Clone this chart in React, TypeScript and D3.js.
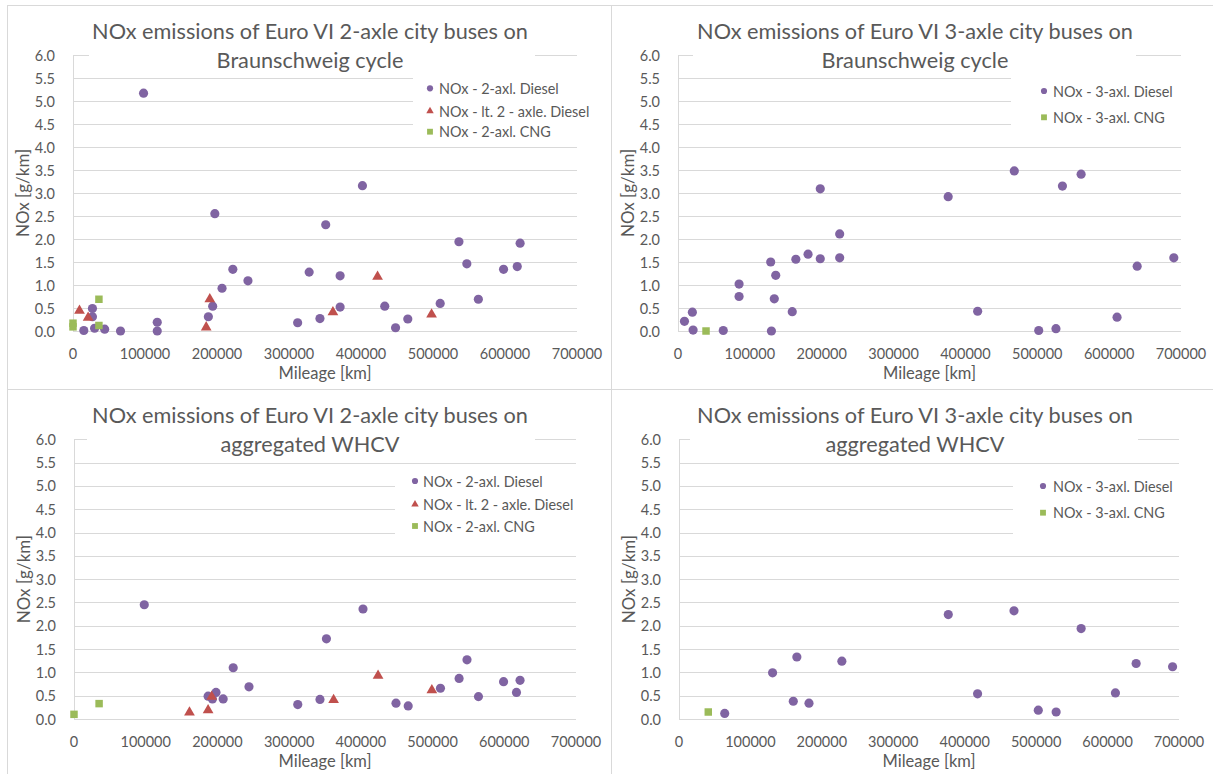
import * as d3 from "d3";

const FONT = "Lato, 'Open Sans', sans-serif";
const TEXT_COLOR = "#595959";
const GRID_COLOR = "#D9D9D9";
const PURPLE = "#8064A2";
const RED = "#C0504D";
const GREEN = "#9BBB59";

const Y_TICKS = [0, 0.5, 1, 1.5, 2, 2.5, 3, 3.5, 4, 4.5, 5, 5.5, 6];
const X_TICKS = [0, 100000, 200000, 300000, 400000, 500000, 600000, 700000];

// [mileage km, NOx g/km]
const bs2AxlDiesel: [number, number][] = [
  [98000, 5.17], [197000, 2.55], [222000, 1.34], [243000, 1.09], [207000, 0.93],
  [194000, 0.54], [188000, 0.31], [27000, 0.49], [27000, 0.31], [30000, 0.06],
  [15000, 0.01], [44000, 0.04], [66000, 0.0], [117000, 0.19], [117000, 0.0],
  [312000, 0.18], [328000, 1.28], [343000, 0.27], [351000, 2.31], [371000, 1.2],
  [371000, 0.52], [402000, 3.16], [433000, 0.54], [448000, 0.07], [465000, 0.26],
  [510000, 0.6], [536000, 1.94], [547000, 1.46], [563000, 0.69], [598000, 1.34],
  [617000, 1.4], [621000, 1.91],
];
const bs2LtDiesel: [number, number][] = [
  [9000, 0.44], [21000, 0.29], [190000, 0.69], [185000, 0.08], [361000, 0.41],
  [423000, 1.18], [498000, 0.36],
];
const bs2Cng: [number, number][] = [[0, 0.17], [0, 0.09], [36000, 0.69], [36000, 0.12]];

const bs3AxlDiesel: [number, number][] = [
  [9000, 0.21], [20000, 0.41], [21000, 0.02], [63000, 0.01], [85000, 1.02],
  [85000, 0.75], [129000, 1.5], [130000, 0.0], [136000, 1.21], [134000, 0.7],
  [159000, 0.42], [164000, 1.56], [181000, 1.67], [198000, 3.09], [198000, 1.57],
  [225000, 2.11], [225000, 1.59], [376000, 2.92], [417000, 0.43], [468000, 3.48],
  [502000, 0.01], [526000, 0.05], [535000, 3.15], [561000, 3.41], [611000, 0.3],
  [639000, 1.41], [690000, 1.59],
];
const bs3Cng: [number, number][] = [[39000, 0.0]];

const wh2AxlDiesel: [number, number][] = [
  [98000, 2.45], [222000, 1.1], [244000, 0.69], [198000, 0.57], [187000, 0.49],
  [193000, 0.43], [208000, 0.43], [312000, 0.31], [343000, 0.42], [352000, 1.72],
  [403000, 2.36], [449000, 0.34], [466000, 0.28], [511000, 0.66], [537000, 0.87],
  [548000, 1.27], [564000, 0.48], [599000, 0.8], [617000, 0.57], [622000, 0.83],
];
const wh2LtDiesel: [number, number][] = [
  [192000, 0.48], [161000, 0.14], [187000, 0.19], [362000, 0.41], [424000, 0.93],
  [499000, 0.62],
];
const wh2Cng: [number, number][] = [[0, 0.1], [35000, 0.33]];

const wh3AxlDiesel: [number, number][] = [
  [64000, 0.12], [131000, 0.99], [165000, 1.33], [160000, 0.38], [182000, 0.34],
  [228000, 1.24], [377000, 2.24], [418000, 0.54], [469000, 2.32], [503000, 0.19],
  [528000, 0.15], [563000, 1.94], [611000, 0.56], [640000, 1.19], [691000, 1.12],
];
const wh3Cng: [number, number][] = [[41000, 0.15]];

const diesel = { shape: d3.symbolCircle, color: PURPLE, size: 66, legendSize: 30 };
const ltDiesel = { shape: d3.symbolTriangle, color: RED, size: 50, legendSize: 24 };
const cng = { shape: d3.symbolSquare, color: GREEN, size: 56, legendSize: 34 };

// layout of the four charts, in page pixels
const PANELS = [
  {
    key: "bs2", left: 7, top: 5, x0: 73, x1: 577, yTop: 55, yBot: 331,
    title: ["NOx emissions of Euro VI 2-axle city buses on", "Braunschweig cycle"],
    titleGap: [89, 535, 45, 70],
    legendGap: [413, 582, 68, 140],
    legendMarkX: 430, legendTextX: 439, legendY: [88.3, 111, 131.7],
    series: [
      { label: "NOx - 2-axl. Diesel", points: bs2AxlDiesel, ...diesel },
      { label: "NOx - lt. 2 - axle. Diesel", points: bs2LtDiesel, ...ltDiesel },
      { label: "NOx - 2-axl. CNG", points: bs2Cng, ...cng },
    ],
  },
  {
    key: "bs3", left: 612, top: 5, x0: 678, x1: 1181, yTop: 55, yBot: 331,
    title: ["NOx emissions of Euro VI 3-axle city buses on", "Braunschweig cycle"],
    titleGap: [693, 1136, 45, 70],
    legendGap: [1011, 1186, 68, 140],
    legendMarkX: 1044, legendTextX: 1053, legendY: [91, 117.3],
    series: [
      { label: "NOx - 3-axl. Diesel", points: bs3AxlDiesel, ...diesel },
      { label: "NOx - 3-axl. CNG", points: bs3Cng, ...cng },
    ],
  },
  {
    key: "wh2", left: 7, top: 389, x0: 74, x1: 576, yTop: 439.3, yBot: 719,
    title: ["NOx emissions of Euro VI 2-axle city buses on", "aggregated WHCV"],
    titleGap: [87, 535, 430, 459],
    legendGap: [395, 582, 468, 545],
    legendMarkX: 415, legendTextX: 423, legendY: [481, 504.3, 526],
    series: [
      { label: "NOx - 2-axl. Diesel", points: wh2AxlDiesel, ...diesel },
      { label: "NOx - lt. 2 - axle. Diesel", points: wh2LtDiesel, ...ltDiesel },
      { label: "NOx - 2-axl. CNG", points: wh2Cng, ...cng },
    ],
  },
  {
    key: "wh3", left: 612, top: 389, x0: 679, x1: 1179, yTop: 439.3, yBot: 719,
    title: ["NOx emissions of Euro VI 3-axle city buses on", "aggregated WHCV"],
    titleGap: [690, 1138, 430, 459],
    legendGap: [1013, 1186, 468, 545],
    legendMarkX: 1043, legendTextX: 1053, legendY: [486, 512.7],
    series: [
      { label: "NOx - 3-axl. Diesel", points: wh3AxlDiesel, ...diesel },
      { label: "NOx - 3-axl. CNG", points: wh3Cng, ...cng },
    ],
  },
];

const crisp = (v: number) => Math.round(v) + 0.5;

function Panel({ cfg }: { cfg: any }) {
  const x = d3.scaleLinear().domain([0, 700000]).range([cfg.x0, cfg.x1]);
  const y = d3.scaleLinear().domain([0, 6]).range([cfg.yBot, cfg.yTop]);
  const titleX = cfg.left + 303;
  const [tgx0, tgx1, tgy0, tgy1] = cfg.titleGap;
  const [lgx0, lgx1, lgy0, lgy1] = cfg.legendGap;

  const grid = Y_TICKS.map((v) => (
    <line key={v} x1={cfg.x0} x2={cfg.x1} y1={crisp(y(v))} y2={crisp(y(v))} stroke={GRID_COLOR} strokeWidth={1} />
  ));

  const yLabels = Y_TICKS.map((v) => (
    <text key={v} x={cfg.x0 - 18} y={y(v)} textAnchor="end" dominantBaseline="central"
      fontSize={14.5} fill={TEXT_COLOR}>{v.toFixed(1)}</text>
  ));

  const xLabels = X_TICKS.map((v) => (
    <text key={v} x={x(v)} y={cfg.yBot + 28} textAnchor="middle" fontSize={14.5} fill={TEXT_COLOR}>{v}</text>
  ));

  const marks = cfg.series.map((s: any) => {
    const path = d3.symbol().type(s.shape).size(s.size)();
    return (
      <g key={s.label}>
        {s.points.map((p: [number, number], i: number) => (
          <path key={i} d={path as string} transform={`translate(${x(p[0])},${y(p[1])})`} fill={s.color} />
        ))}
      </g>
    );
  });

  const legend = cfg.series.map((s: any, i: number) => {
    const path = d3.symbol().type(s.shape).size(s.legendSize)();
    const ly = cfg.legendY[i];
    return (
      <g key={s.label}>
        <path d={path as string} transform={`translate(${cfg.legendMarkX},${ly})`} fill={s.color} />
        <text x={cfg.legendTextX} y={ly} dominantBaseline="central" fontSize={14.4} fill={TEXT_COLOR}>{s.label}</text>
      </g>
    );
  });

  return (
    <g>
      <g>{grid}</g>
      <rect x={tgx0} y={tgy0} width={tgx1 - tgx0} height={tgy1 - tgy0} fill="white" />
      <rect x={lgx0} y={lgy0} width={lgx1 - lgx0} height={lgy1 - lgy0} fill="white" />
      <line x1={crisp(cfg.x0)} x2={crisp(cfg.x0)} y1={y(6)} y2={y(0)} stroke={GRID_COLOR} />
      <g>{yLabels}</g>
      <g>{xLabels}</g>
      <text x={titleX} y={cfg.top + 34} textAnchor="middle" fontSize={21.7} fill={TEXT_COLOR}>{cfg.title[0]}</text>
      <text x={titleX} y={cfg.top + 62.5} textAnchor="middle" fontSize={21.7} fill={TEXT_COLOR}>{cfg.title[1]}</text>
      <text fontSize={17} fill={TEXT_COLOR} textAnchor="middle" dominantBaseline="central"
        transform={`translate(${cfg.x0 - 51},${(cfg.yTop + cfg.yBot) / 2}) rotate(-90)`}>NOx [g/km]</text>
      <text x={(cfg.x0 + cfg.x1) / 2} y={cfg.yBot + 48} textAnchor="middle" fontSize={16.5} fill={TEXT_COLOR}>Mileage [km]</text>
      <g>{marks}</g>
      <g>{legend}</g>
    </g>
  );
}

export default function App() {
  const W = 1213;
  const H = 774;
  return (
    <div style={{ position: "absolute", left: 0, top: 0 }}>
      <svg width={W} height={H} style={{ display: "block", background: "white" }} fontFamily={FONT}>
        <rect width={W} height={H} fill="white" />
        <line x1={7.5} x2={7.5} y1={5} y2={H} stroke={GRID_COLOR} />
        <line x1={7} x2={W} y1={5.5} y2={5.5} stroke={GRID_COLOR} />
        <line x1={611.5} x2={611.5} y1={5} y2={H} stroke={GRID_COLOR} />
        <line x1={7} x2={W} y1={389.5} y2={389.5} stroke={GRID_COLOR} />
        {PANELS.map((p) => (
          <Panel key={p.key} cfg={p} />
        ))}
      </svg>
    </div>
  );
}
